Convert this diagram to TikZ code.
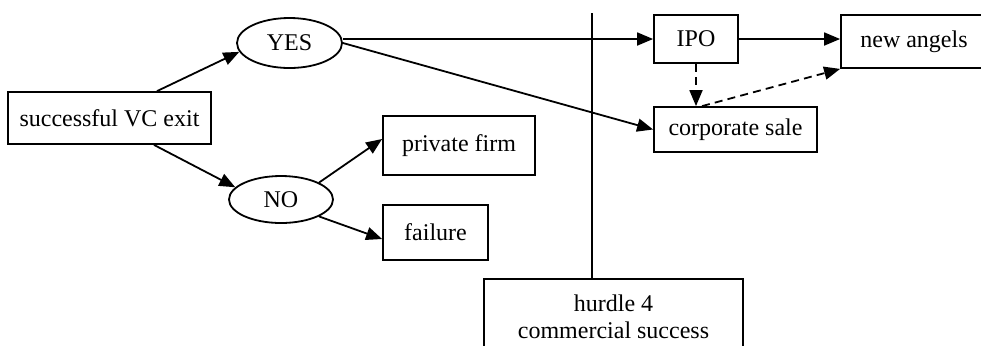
\documentclass[tikz,border=0pt]{standalone}
\usepackage{fontspec}
\setmainfont{Liberation Serif}
\usetikzlibrary{arrows.meta,shapes.geometric}
\begin{document}
\begin{tikzpicture}[x=0.5pt,y=-0.5pt,
  font=\fontsize{12}{13.6}\selectfont,
  every path/.style={line width=0.9pt},
  boxnode/.style={draw,rectangle,inner sep=0pt,line width=0.9pt,align=center},
  ovalnode/.style={draw,ellipse,inner sep=0pt,line width=0.9pt},
  arr/.style={-{Triangle[length=8pt,width=6.5pt]},line width=0.9pt},
  darr/.style={arr,dash pattern=on 4pt off 2.6pt}]
\useasboundingbox (0,0) rectangle (981,345);
\node[boxnode,minimum width=101.5pt,minimum height=26pt] (exit) at (109.5,118) {successful VC exit};
\node[ovalnode,minimum width=52.5pt,minimum height=25pt] (yes) at (289.5,43) {YES};
\node[ovalnode,minimum width=52pt,minimum height=23.5pt] (no) at (281,199.5) {NO};
\node[boxnode,minimum width=76pt,minimum height=29.5pt] (private) at (459,145.5) {private firm};
\node[boxnode,minimum width=52.5pt,minimum height=27.5pt] (failure) at (435.5,232.5) {failure};
\node[boxnode,minimum width=42pt,minimum height=24pt] (ipo) at (696,39) {IPO};
\node[boxnode,minimum width=73pt,minimum height=26.5pt] (angels) at (914,41.5) {new angels};
\node[boxnode,minimum width=81.5pt,minimum height=22.5pt] (corp) at (735.5,129.5) {corporate sale};
\node[boxnode,minimum width=129.5pt,minimum height=38pt] (hurdle) at (613.5,317) {hurdle 4\\commercial success};
\coordinate (ltop) at (592,13);
\draw (ltop) -- (ltop |- hurdle.north);
\draw[arr] ([xshift=23.75pt]exit.north) -- (yes.190);
\draw[arr] ([xshift=22.25pt]exit.south) -- (no.165);
\draw[arr] (no.24) -- ([yshift=3.25pt]private.west);
\draw[arr] (no.-24) -- ([yshift=-3.25pt]failure.west);
\draw[arr] (ipo.west -| yes.east) -- (ipo.west);
\draw[arr] (yes.east) -- (corp.west);
\draw[arr] (ipo.east) -- (ipo.east -| angels.west);
\draw[darr] (ipo.south) -- (ipo.south |- corp.north);
\draw[darr] ([xshift=-16.75pt]corp.north) -- (angels.south west);
\end{tikzpicture}
\end{document}
